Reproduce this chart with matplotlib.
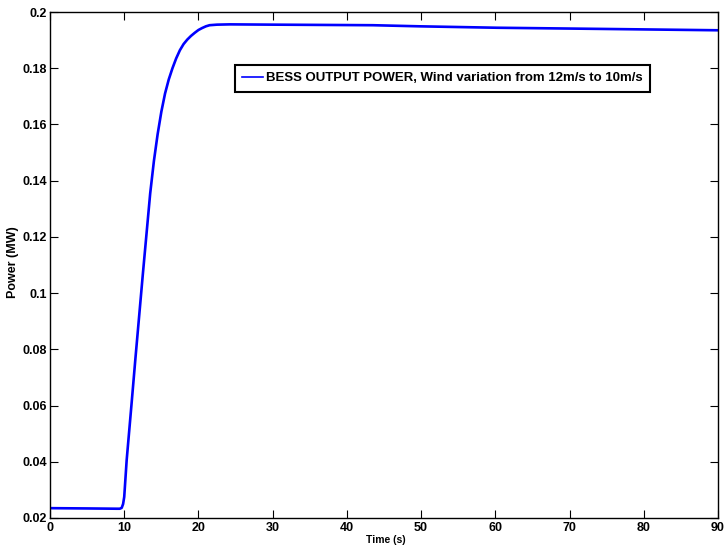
import matplotlib
matplotlib.use("Agg")
import matplotlib.pyplot as plt

# Data
time_s = [0, 5, 9.0, 9.4, 9.66, 9.85, 10.0, 10.33, 11.0, 11.5, 12.0, 12.5, 13.0, 13.5, 14.0, 14.5,
          15.0, 15.5, 16.0, 16.5, 17.0, 17.5, 18.0, 18.5, 19.0, 19.5, 20.0, 20.5, 21.0, 21.5, 22.5,
          24.25, 30, 43.5, 49.9, 60.2, 73.7, 90]
power_mw = [0.0235, 0.0234, 0.0233, 0.0233, 0.0236, 0.0250, 0.0275, 0.0406, 0.0610, 0.0765, 0.0915,
            0.1065, 0.1210, 0.1355, 0.1470, 0.1565, 0.1645, 0.1710, 0.1760, 0.1800, 0.1835, 0.1864,
            0.1886, 0.1902, 0.1915, 0.1926, 0.1936, 0.1943, 0.1949, 0.1953, 0.1955, 0.1956, 0.1955,
            0.1953, 0.1949, 0.1944, 0.1940, 0.1935]
x_ticks = [0, 10, 20, 30, 40, 50, 60, 70, 80, 90]
y_ticks = [0.02, 0.04, 0.06, 0.08, 0.1, 0.12, 0.14, 0.16, 0.18, 0.2]
y_tick_labels = ["0.02", "0.04", "0.06", "0.08", "0.1", "0.12", "0.14", "0.16", "0.18", "0.2"]
legend_label = "BESS OUTPUT POWER, Wind variation from 12m/s to 10m/s"

plt.rcParams['font.family'] = ['Liberation Sans', 'DejaVu Sans']
plt.rcParams['font.weight'] = 'bold'

W, H = 726, 550
fig = plt.figure(figsize=(W / 100, H / 100), dpi=100)
L, R, T, B = 50, 718, 12, 518
ax = fig.add_axes([L / W, 1 - B / H, (R - L) / W, (B - T) / H])
ax.plot(time_s, power_mw, color='#0000ff', lw=1.9, label=legend_label, solid_joinstyle='round')
ax.set_xlim(0, 90)
ax.set_ylim(0.02, 0.2)
ax.set_xticks(x_ticks)
ax.set_xticklabels([str(t) for t in x_ticks])
ax.set_yticks(y_ticks)
ax.set_yticklabels(y_tick_labels)
ax.tick_params(direction='in', top=True, right=True, length=6, width=0.8, labelsize=9)
ax.tick_params(axis='x', pad=3)
ax.tick_params(axis='y', pad=2)
for sp in ax.spines.values():
    sp.set_linewidth(1.0)
ax.set_xlabel("Time (s)", fontsize=7.5, fontweight='bold')
ax.set_ylabel("Power (MW)", fontsize=9, fontweight='bold')
ax.xaxis.set_label_coords((386 - L) / (R - L), (B - 535) / (B - T))
ax.yaxis.set_label_coords((19 - L) / (R - L), (B - 262) / (B - T))
leg = ax.legend(loc='upper left', bbox_to_anchor=((235 - L) / (R - L), (B - 65) / (B - T)),
                prop={'size': 9.5, 'weight': 'bold'},
                frameon=True, fancybox=False, edgecolor='black', framealpha=1,
                handlelength=1.6, handletextpad=0.2, borderpad=0.55, borderaxespad=0)
leg.get_frame().set_linewidth(1.5)
for l in leg.get_lines():
    l.set_linewidth(1.2)
fig.savefig("out.png", dpi=100)
